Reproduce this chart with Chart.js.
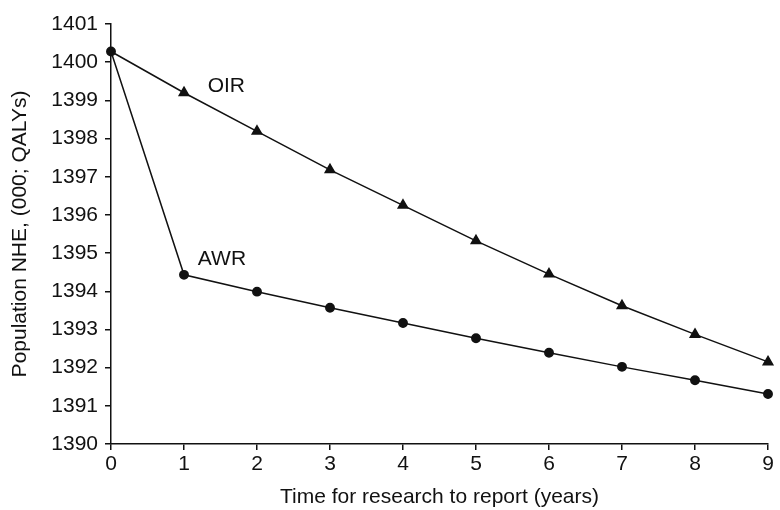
<!DOCTYPE html>
<html>
<head>
<meta charset="utf-8">
<script src="https://cdn.jsdelivr.net/npm/chart.js@4/dist/chart.umd.min.js"></script>
<style>
  html, body { margin: 0; padding: 0; background: #fff; }
  #wrap { width: 780px; height: 510px; position: relative; }
</style>
</head>
<body>
<div id="wrap"><canvas id="c" width="780" height="510"></canvas></div>
<script>
// Years until the research reports
const years = [0, 1, 2, 3, 4, 5, 6, 7, 8, 9];
// Population net health effect, thousands of QALYs
const oirValues = [1400.28, 1399.20, 1398.19, 1397.18, 1396.25, 1395.32, 1394.45, 1393.62, 1392.87, 1392.15];
const awrValues = [1400.28, 1394.43, 1393.99, 1393.57, 1393.17, 1392.77, 1392.39, 1392.02, 1391.67, 1391.31];
const yTicks = [1390, 1391, 1392, 1393, 1394, 1395, 1396, 1397, 1398, 1399, 1400, 1401];
// Series labels placed beside their lines (x, y in data units)
const seriesLabels = [
  { text: 'OIR', x: 1.58, y: 1399.36 },
  { text: 'AWR', x: 1.52, y: 1394.84 }
];

const FONT = '"Liberation Sans", Arial, Helvetica, sans-serif';
const SIZE = 21;
const INK = '#111';

const lineLabels = {
  id: 'lineLabels',
  afterDatasetsDraw(chart) {
    const { ctx, scales: { x, y } } = chart;
    ctx.save();
    ctx.font = SIZE + 'px ' + FONT;
    ctx.fillStyle = INK;
    ctx.textAlign = 'center';
    ctx.textBaseline = 'middle';
    seriesLabels.forEach(l => ctx.fillText(l.text, x.getPixelForValue(l.x), y.getPixelForValue(l.y)));
    ctx.restore();
  }
};

new Chart(document.getElementById('c'), {
  type: 'line',
  data: {
    datasets: [
      {
        label: 'OIR',
        data: years.map((t, i) => ({ x: t, y: oirValues[i] })),
        borderColor: INK, backgroundColor: INK, borderWidth: 1.5,
        pointStyle: 'triangle',
        pointRadius: years.map((t, i) => i === 0 ? 0 : 5.5),
        tension: 0, order: 2, clip: false
      },
      {
        label: 'AWR',
        data: years.map((t, i) => ({ x: t, y: awrValues[i] })),
        borderColor: INK, backgroundColor: INK, borderWidth: 1.5,
        pointStyle: 'circle', pointRadius: 4.2,
        tension: 0, order: 1, clip: false
      }
    ]
  },
  options: {
    responsive: false,
    animation: false,
    devicePixelRatio: 1,
    layout: { padding: { top: 24, right: 12, left: 0, bottom: 0 } },
    plugins: { legend: { display: false }, tooltip: { enabled: false } },
    scales: {
      x: {
        type: 'linear', min: 0, max: 9,
        afterFit(s) { s.height = 66; },
        afterBuildTicks(s) { s.ticks = years.map(v => ({ value: v })); },
        grid: { drawOnChartArea: false, tickLength: 6, color: INK, lineWidth: 1.5 },
        border: { color: INK, width: 1.5 },
        ticks: { color: INK, font: { family: FONT, size: SIZE }, padding: 2, maxRotation: 0,
                 callback: v => String(v) },
        title: { display: true, text: 'Time for research to report (years)', color: INK,
                 font: { family: FONT, size: SIZE }, padding: { top: 4, bottom: 0 } }
      },
      y: {
        type: 'linear', min: 1390, max: 1401,
        afterFit(s) { s.width = 111; },
        afterBuildTicks(s) { s.ticks = yTicks.map(v => ({ value: v })); },
        grid: { drawOnChartArea: false, tickLength: 6, color: INK, lineWidth: 1.5 },
        border: { color: INK, width: 1.5 },
        ticks: { color: INK, font: { family: FONT, size: SIZE }, padding: 7,
                 callback: v => String(v) },
        title: { display: true, text: 'Population NHE, (000; QALYs)', color: INK,
                 font: { family: FONT, size: SIZE }, padding: { top: 8, bottom: 4 } }
      }
    }
  },
  plugins: [lineLabels]
});
</script>
</body>
</html>
